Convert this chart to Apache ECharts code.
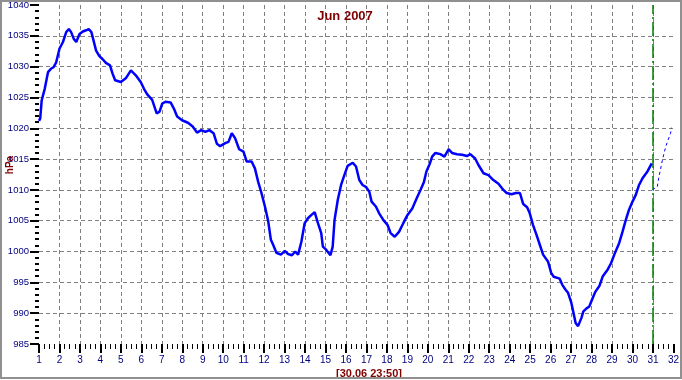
<!DOCTYPE html>
<html>
<head>
<meta charset="utf-8">
<script src="https://cdn.jsdelivr.net/npm/echarts@6/dist/echarts.min.js"></script>
<style>
html,body{margin:0;padding:0;background:#fff;}
#chart{width:682px;height:380px;}
#frame{position:absolute;left:0;top:0;width:678px;height:375px;border:2px solid #909090;pointer-events:none;}
</style>
</head>
<body>
<div id="chart"></div>
<div id="frame"></div>
<script>
// Observed pressure (day of month, hPa)
const obsDay = [
  1.00,1.06,1.13,1.28,1.44,1.60,1.71,1.84,2.00,2.17,
  2.33,2.46,2.57,2.70,2.82,2.98,3.14,3.30,3.43,3.56,
  3.66,3.79,3.95,4.11,4.27,4.47,4.59,4.72,5.00,5.24,
  5.49,5.73,5.97,6.13,6.29,6.53,6.75,6.89,7.02,7.18,
  7.43,7.59,7.75,7.99,8.28,8.51,8.72,8.93,9.13,9.32,
  9.53,9.69,9.85,10.10,10.26,10.42,10.58,10.78,10.99,11.15,
  11.39,11.55,11.71,11.87,12.04,12.20,12.33,12.44,12.60,12.82,
  13.01,13.17,13.36,13.52,13.66,13.82,13.98,14.14,14.30,14.47,
  14.63,14.79,14.87,15.03,15.24,15.35,15.44,15.60,15.76,15.92,
  16.08,16.33,16.49,16.65,16.81,16.97,17.14,17.25,17.46,17.62,
  17.83,18.03,18.18,18.38,18.59,18.80,19.00,19.24,19.45,19.64,
  19.81,19.93,20.10,20.21,20.37,20.61,20.81,21.02,21.18,21.43,
  21.67,21.92,22.07,22.31,22.48,22.72,22.96,23.20,23.45,23.69,
  23.85,24.09,24.30,24.50,24.66,24.85,24.98,25.14,25.31,25.47,
  25.63,25.87,26.03,26.15,26.44,26.57,26.73,26.85,27.01,27.12,
  27.22,27.34,27.41,27.50,27.60,27.73,27.89,28.06,28.19,28.38,
  28.55,28.79,28.95,29.11,29.35,29.51,29.67,29.83,30.00,30.16,
  30.32,30.49,30.73,30.94
];
const obsHpa = [
  1021.2,1021.6,1024.5,1026.4,1029.1,1029.7,1029.9,1030.7,1032.9,1034.0,
  1035.6,1036.1,1035.6,1034.5,1034.0,1035.3,1035.7,1035.9,1036.1,1035.6,
  1034.3,1032.6,1031.7,1031.2,1030.6,1030.2,1028.9,1027.8,1027.5,1028.1,
  1029.4,1028.6,1027.5,1026.4,1025.5,1024.6,1022.4,1022.7,1024.0,1024.3,
  1024.2,1023.2,1021.9,1021.3,1020.9,1020.3,1019.3,1019.7,1019.4,1019.7,
  1019.2,1017.5,1017.1,1017.6,1017.8,1019.2,1018.4,1016.6,1016.2,1014.6,
  1014.6,1013.5,1011.3,1009.5,1007.3,1004.9,1001.9,1001.1,999.8,999.5,
  1000.1,999.6,999.4,1000.0,999.5,1001.6,1004.6,1005.4,1005.9,1006.4,
  1004.6,1003.0,1000.8,1000.3,999.4,1000.8,1005.1,1008.4,1010.8,1012.4,
  1013.9,1014.4,1013.8,1011.6,1010.8,1010.5,1009.7,1008.1,1007.3,1006.2,
  1005.1,1004.3,1003.0,1002.4,1003.2,1004.6,1005.9,1007.0,1008.6,1010.0,
  1011.3,1013.0,1014.3,1015.4,1016.0,1015.8,1015.4,1016.6,1016.0,1015.8,
  1015.7,1015.5,1015.8,1015.1,1014.0,1012.7,1012.4,1011.6,1011.0,1010.0,
  1009.5,1009.3,1009.5,1009.5,1007.7,1007.2,1006.2,1004.3,1002.7,1001.1,
  999.5,998.4,996.5,995.9,995.6,994.6,993.8,993.3,991.7,990.0,
  988.4,987.9,988.0,989.2,990.3,990.7,991.1,992.5,993.5,994.4,
  996.0,997.1,998.1,999.5,1001.4,1003.2,1005.1,1006.8,1008.1,1009.2,
  1010.8,1011.9,1013.0,1014.3
];
// Forecast (dotted)
const fcDay = [30.97,31.21,31.29,31.46,31.62,31.86,31.91];
const fcHpa = [1010.0,1010.5,1012.1,1014.8,1017.0,1019.2,1020.1];

const nowDay = 31;
const titleText = 'Jun 2007';
const stampText = '[30.06 23:50]';
const unitText = 'hPa';

const obsData = obsDay.map((d, i) => [d, obsHpa[i]]);
const fcData = fcDay.map((d, i) => [d, fcHpa[i]]);

const navy = '#000080';
const darkRed = '#800000';
const tickColor = '#000000';
const gridStyle = {color: '#808080', width: 1, type: [4, 3]};
const labelFont = 'Liberation Sans, Arial, sans-serif';

const chart = echarts.init(document.getElementById('chart'), null, {renderer: 'canvas'});
chart.setOption({
  animation: false,
  backgroundColor: '#ffffff',
  grid: {left: 39, top: 4, width: 638, height: 340, containLabel: false},
  xAxis: {
    type: 'value', min: 1, max: 32, interval: 1,
    axisLine: {show: false, onZero: false},
    axisTick: {show: true, length: 9, lineStyle: {color: tickColor, width: 2}},
    minorTick: {show: true, splitNumber: 4, length: 5, lineStyle: {color: tickColor, width: 1}},
    axisLabel: {color: navy, fontSize: 10, fontFamily: labelFont, margin: 11, formatter: v => String(v)},
    splitLine: {show: true, showMinLine: false, showMaxLine: false, lineStyle: gridStyle}
  },
  yAxis: {
    type: 'value', min: 985, max: 1040, interval: 5,
    axisLine: {show: false, onZero: false},
    axisTick: {show: true, length: 9, lineStyle: {color: tickColor, width: 2}},
    minorTick: {show: true, splitNumber: 5, length: 4, lineStyle: {color: tickColor, width: 2}},
    axisLabel: {show: true, color: navy, fontSize: 9.5, fontFamily: labelFont, margin: 10, formatter: v => String(v)},
    splitLine: {show: true, showMinLine: false, showMaxLine: false, lineStyle: gridStyle}
  },
  title: [
    {text: titleText, left: 340, top: 5, textAlign: 'center',
     textStyle: {color: darkRed, fontSize: 13, fontWeight: 'bold', fontFamily: labelFont}},
    {text: stampText, left: 364, top: 363, textAlign: 'center',
     textStyle: {color: darkRed, fontSize: 11, fontWeight: 'bold', fontFamily: labelFont}}
  ],
  graphic: [
    {type: 'text', x: 10, y: 165, z: 100, rotation: Math.PI / 2,
     style: {text: unitText, fill: darkRed, font: 'bold 10px "Liberation Sans", Arial, sans-serif',
             textAlign: 'center', textVerticalAlign: 'middle'}}
  ],
  series: [
    {
      type: 'line', data: obsData, showSymbol: false, symbol: 'none',
      lineStyle: {color: '#0000ff', width: 2.5}, z: 5,
      markLine: {
        silent: true, symbol: ['none', 'none'], label: {show: false},
        lineStyle: {color: '#008000', width: 1.5, type: [14, 3, 2, 3]},
        data: [{xAxis: nowDay}]
      }
    },
    {
      type: 'line', data: fcData, showSymbol: false, symbol: 'none',
      lineStyle: {color: '#0000ff', width: 1, type: [3, 3]}, z: 4
    }
  ]
});
</script>
</body>
</html>
